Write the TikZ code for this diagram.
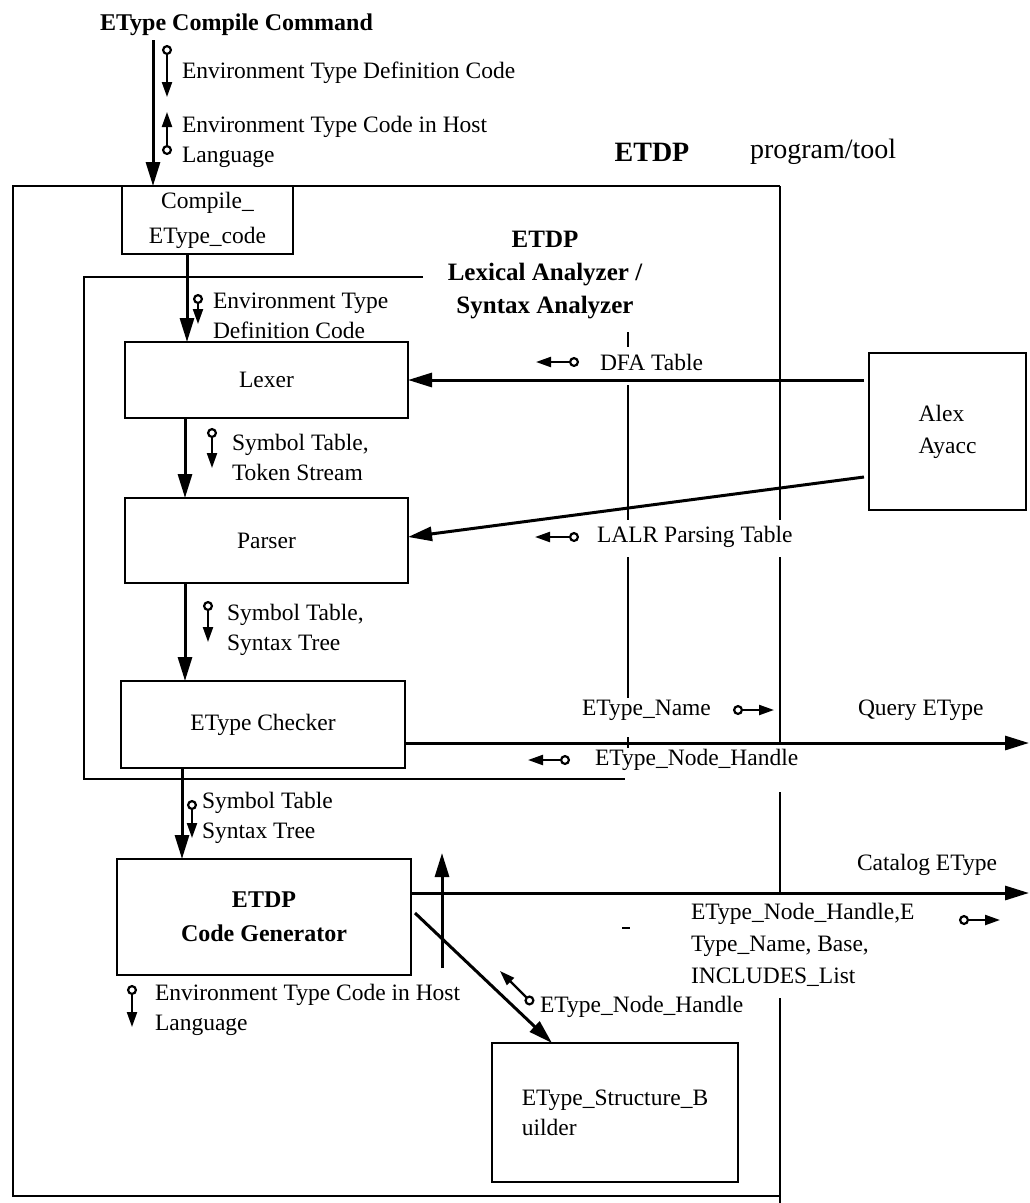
\documentclass[tikz,border=0pt]{standalone}
\usepackage{fontspec}
\setmainfont{Liberation Serif}
\usetikzlibrary{arrows.meta}
\begin{document}
\begin{tikzpicture}[x=1pt,y=-1pt,
  every node/.style={inner sep=0pt, outer sep=0pt, font=\fontsize{23.5}{30}\selectfont},
  boxst/.style={draw, line width=2pt, align=center},
  lblst/.style={anchor=west, align=left},
  bldst/.style={font=\fontsize{24}{34}\selectfont\bfseries},
  flowst/.style={line width=3pt, -{Triangle[length=24pt,width=14pt]}},
  couplest/.style={line width=2.2pt, {Circle[open,length=10pt,width=10pt]}-{Triangle[length=15pt,width=10pt]}},
  linest/.style={line width=2pt}]
\useasboundingbox (0,0) rectangle (1029,1203);

% top labels
\node[bldst, anchor=west] (title) at (100,25) {EType Compile Command};
\node[lblst] (t1) at (182,73) {Environment Type Definition Code};
\node[lblst] (t2) at (182,142) {Environment Type Code in Host\\Language};
\node[font=\fontsize{28}{34}\selectfont\bfseries] (etdp) at (652,152) {ETDP};
\node[anchor=west, font=\fontsize{28}{34}\selectfont] (prog) at (750,152) {program/tool};

% outer frame
\draw[linest] (780,186) -- (13,186) -- (13,1196) -- (780,1196);
\draw[linest] (780,186) -- (780,520);
\draw[linest] (780,557) -- (780,743);
\draw[linest] (780,792) -- (780,893);
\draw[linest] (780,998) -- (780,1203);

% compile box
\node[boxst, minimum width=171pt, minimum height=68pt, font=\fontsize{23.5}{35}\selectfont] (compile) at (207.5,220) {Compile\_\\EType\_code};

% inner frame
\draw[linest] (423,277) -- (84,277) -- (84,779) -- (625,779);
\node[align=center, font=\fontsize{25}{33}\selectfont\bfseries] (lexsyn) at (545,275) {ETDP\\Lexical Analyzer /\\Syntax Analyzer};
\draw[linest] (628,332) -- (628,347);
\draw[linest] (628,385) -- (628,520);
\draw[linest] (628,557) -- (628,698);
\draw[linest] (628,737) -- (628,748);
\draw[linest] (622,928) -- (630,928);

% boxes
\node[boxst, minimum width=283pt, minimum height=76pt] (lexer) at (266.5,380) {Lexer};
\node[boxst, minimum width=283pt, minimum height=85pt] (parser) at (266.5,540.5) {Parser};
\node[boxst, minimum width=284pt, minimum height=87pt] (checker) at (263,724.5) {EType Checker};
\node[boxst, minimum width=294pt, minimum height=116pt, font=\fontsize{24}{34}\selectfont\bfseries] (codegen) at (264,917) {ETDP\\Code Generator};
\node[boxst, align=left, minimum width=246pt, minimum height=139pt] (builder) at (615,1112.5) {EType\_Structure\_B\\uilder};
\node[boxst, align=left, minimum width=157pt, minimum height=157pt, font=\fontsize{23.5}{32}\selectfont] (alex) at (947.5,431.5) {Alex\\Ayacc};

% main flows
\coordinate (inA) at (153,40);
\draw[flowst] (inA) -- (inA |- compile.north);
\draw[flowst] ([xshift=-20.5pt]compile.south) -- ([xshift=-20.5pt]compile.south |- lexer.north);
\draw[flowst] ([xshift=-81.5pt]lexer.south) -- ([xshift=-81.5pt]lexer.south |- parser.north);
\draw[flowst] ([xshift=-81.5pt]parser.south) -- ([xshift=-81.5pt]parser.south |- checker.north);
\draw[flowst] ([xshift=-81pt]checker.south) -- ([xshift=-81pt]checker.south |- codegen.north);
\draw[flowst] ([xshift=-5pt]alex.west |- lexer.east) -- (lexer.east);
\draw[flowst] ([xshift=-5pt,yshift=-45.5pt]alex.west) -- ([yshift=3.5pt]parser.east);
\coordinate (qend) at (1029,743);
\draw[flowst] (checker.east |- qend) -- (qend);
\coordinate (cend) at (1029,893);
\draw[flowst] (codegen.east |- cend) -- (cend);
\coordinate (upA) at (442,968);
\coordinate (upB) at (442,853);
\draw[flowst] (upA) -- (upB);
\draw[flowst] ([xshift=4pt,yshift=4pt]codegen.east) -- ([xshift=-63pt]builder.north);

% data couples
\draw[couplest] (167,45) -- (167,97);
\draw[couplest] (167,155) -- (167,112);
\draw[couplest] (198,294) -- (198,324);
\draw[couplest] (212,428) -- (212,468);
\draw[couplest] (208,601) -- (208,642);
\draw[couplest] (192,800) -- (192,838);
\draw[couplest] (132,985) -- (132,1027);
\draw[couplest] (579,362) -- (536,362);
\draw[couplest] (579,537) -- (535,537);
\draw[couplest] (733,710) -- (774,710);
\draw[couplest] (570,760) -- (528,760);
\draw[couplest] (959,920) -- (1000,920);
\draw[couplest] (533,1004) -- (500,971);

% labels
\node[lblst] (l3) at (213,316) {Environment Type\\Definition Code};
\node[lblst] (l4) at (232,457) {Symbol Table,\\Token Stream};
\node[lblst] (l5) at (227,630) {Symbol Table,\\Syntax Tree};
\node[lblst] (l6) at (600,362) {DFA Table};
\node[lblst] (l7) at (597,537) {LALR Parsing Table};
\node[lblst] (l8) at (582,710) {EType\_Name};
\node[lblst] (l9) at (858,710) {Query EType};
\node[lblst] (l10) at (595,760) {EType\_Node\_Handle};
\node[lblst] (l11) at (202,818) {Symbol Table\\Syntax Tree};
\node[lblst] (l12) at (857,865) {Catalog EType};
\node[lblst, font=\fontsize{23.5}{32}\selectfont] (l13) at (691,945) {EType\_Node\_Handle,E\\Type\_Name, Base,\\INCLUDES\_List};
\node[lblst] (l14) at (155,1010) {Environment Type Code in Host\\Language};
\node[lblst] (l15) at (540,1007) {EType\_Node\_Handle};
\end{tikzpicture}
\end{document}
